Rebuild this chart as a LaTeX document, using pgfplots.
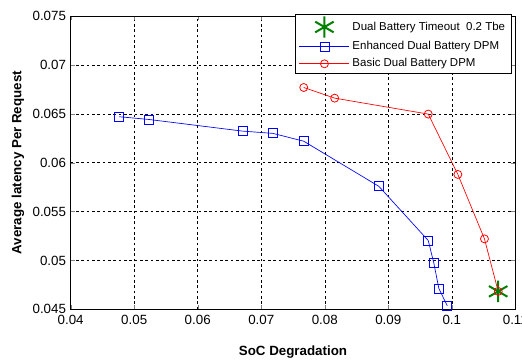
\documentclass[border=0pt]{standalone}
\usepackage{pgfplots}
\pgfplotsset{compat=1.18}
\usepackage{fontspec}
\setmainfont{Liberation Sans}
\usetikzlibrary{calc}
\definecolor{mgreen}{rgb}{0,0.5,0}
\begin{document}
\begin{tikzpicture}
\begin{axis}[
  scale only axis,
  width=333.45pt, height=220pt,
  xmin=0.04, xmax=0.11, ymin=0.045, ymax=0.075,
  xtick={0.04,0.05,0.06,0.07,0.08,0.09,0.10,0.11},
  xticklabels={0.04,0.05,0.06,0.07,0.08,0.09,0.1,0.11},
  ytick={0.045,0.05,0.055,0.06,0.065,0.07,0.075},
  yticklabels={0.045,0.05,0.055,0.06,0.065,0.07,0.075},
  scaled ticks=false,
  tick align=inside,
  major tick length=3pt,
  tick label style={font=\fontsize{10}{12}\selectfont},
  xlabel={\textbf{SoC Degradation}},
  ylabel={\textbf{Average latency Per Request}},
  label style={font=\fontsize{10}{12}\selectfont},
  xlabel style={at={(rel axis cs:0.5,0)}, anchor=center, yshift=-32pt},
  ylabel style={at={(rel axis cs:0,0.5)}, anchor=center, yshift=39.5pt},
  xticklabel style={yshift=-1pt},
  grid=major,
  major grid style={black, dash pattern=on 2pt off 2pt, line width=0.4pt},
  axis line style={black, line width=0.6pt},
  legend style={at={(rel axis cs:0.9926,1.0068)}, anchor=north east,
    font=\fontsize{8.6}{10}\selectfont, draw=black, line width=0.5pt,
    inner xsep=3pt, inner ysep=1.5pt, row sep=1pt, cells={anchor=west}},
  legend cell align=left,
  legend image code/.code={\draw[mark repeat=2,mark phase=2] plot coordinates {(0cm,0cm) (0.66cm,0cm) (1.32cm,0cm)};},
]
\coordinate (bl) at (rel axis cs:0,0);
\coordinate (tr) at (rel axis cs:1,1);
\addplot[mgreen, line width=1.5pt, mark=asterisk, mark size=8pt, only marks] coordinates {(0.1073,0.04684)};
\addlegendentry{Dual Battery Timeout\ \ 0.2 Tbe}
\addplot[blue, line width=0.5pt, mark=square, mark size=3.4pt, mark options={solid, line width=0.6pt}] coordinates {
(0.04765,0.0647)
(0.05231,0.06442)
(0.06704,0.06323)
(0.0718,0.0630)
(0.07668,0.0622)
(0.08852,0.05758)
(0.09629,0.05204)
(0.09717,0.04973)
(0.09796,0.04714)
(0.09928,0.04537)
};
\addlegendentry{Enhanced Dual Battery DPM}
\addplot[red, line width=0.5pt, mark=o, mark size=3pt, mark options={solid, line width=0.6pt}] coordinates {
(0.07669,0.06769)
(0.08156,0.0666)
(0.09629,0.06497)
(0.10095,0.0588)
(0.10514,0.05221)
(0.1073,0.04684)
};
\addlegendentry{Basic Dual Battery DPM}
\end{axis}
\pgfresetboundingbox
\path ($(bl)+(-53.0pt,-40.3pt)$) rectangle ($(tr)+(5.0pt,12pt)$);
\end{tikzpicture}
\end{document}
